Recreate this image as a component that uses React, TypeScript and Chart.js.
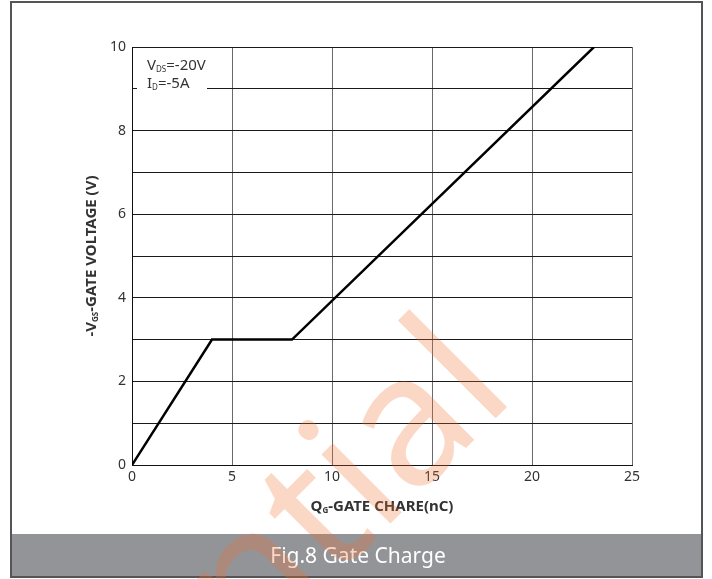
import React, { useEffect, useRef } from "react";
import { Chart, registerables } from "chart.js";

Chart.register(...registerables);

const qgValues = [0, 4, 8, 23.1];
const vgsValues = [0, 3, 3, 10];
const xTicks = [0, 5, 10, 15, 20, 25];
const yLabelled = [0, 2, 4, 6, 8, 10];

const xTitleParts: Array<[string, boolean]> = [["Q", false], ["G", true], ["-GATE CHARE(nC)", false]];
const yTitleParts: Array<[string, boolean]> = [["-V", false], ["GS", true], ["-GATE VOLTAGE (V)", false]];
const note1: Array<[string, boolean]> = [["V", false], ["DS", true], ["=-20V", false]];
const note2: Array<[string, boolean]> = [["I", false], ["D", true], ["=-5A", false]];
const caption = "Fig.8 Gate Charge";
const watermark = "Confidential";

const FONT = "'Noto Sans', sans-serif";

function drawRich(
  ctx: CanvasRenderingContext2D,
  parts: Array<[string, boolean]>,
  x: number,
  y: number,
  size: number,
  weight: string,
  color: string,
  align: "left" | "center"
) {
  const subSize = Math.round(size * 0.55);
  let total = 0;
  const widths = parts.map(([t, sub]) => {
    ctx.font = `${weight} ${sub ? subSize : size}px ${FONT}`;
    const w = ctx.measureText(t).width;
    total += w;
    return w;
  });
  let cx = align === "center" ? x - total / 2 : x;
  ctx.fillStyle = color;
  ctx.textAlign = "left";
  ctx.textBaseline = "alphabetic";
  parts.forEach(([t, sub], i) => {
    ctx.font = `${weight} ${sub ? subSize : size}px ${FONT}`;
    ctx.fillText(t, cx, sub ? y + 2 : y);
    cx += widths[i];
  });
}

const decor = {
  id: "decor",
  afterDraw(chart: any) {
    const ctx: CanvasRenderingContext2D = chart.ctx;
    const { left, right, top, bottom } = chart.chartArea;
    ctx.save();
    // annotation box
    ctx.fillStyle = "#ffffff";
    ctx.fillRect(left + 5, top + 8, 70, 36);
    drawRich(ctx, note1, left + 15, top + 23, 15, "normal", "#333333", "left");
    drawRich(ctx, note2, left + 15, top + 41, 15, "normal", "#333333", "left");
    // axis titles
    drawRich(ctx, xTitleParts, (left + right) / 2, 511, 15, "bold", "#333333", "center");
    ctx.save();
    ctx.translate(96, (top + bottom) / 2);
    ctx.rotate(-Math.PI / 2);
    drawRich(ctx, yTitleParts, 0, 0, 15, "bold", "#333333", "center");
    ctx.restore();
    // caption band
    ctx.fillStyle = "#939498";
    ctx.fillRect(12, 534, 690, 43);
    ctx.fillStyle = "#ffffff";
    ctx.font = `normal 21px ${FONT}`;
    ctx.textAlign = "center";
    ctx.textBaseline = "alphabetic";
    ctx.fillText(caption, 358, 563);
    // frame
    ctx.strokeStyle = "#555555";
    ctx.lineWidth = 2;
    ctx.strokeRect(11, 2, 691, 575);
    // watermark
    ctx.save();
    ctx.translate(518, 396);
    ctx.rotate(-Math.PI / 4);
    ctx.font = `normal 182px ${FONT}`;
    ctx.textAlign = "right";
    ctx.textBaseline = "alphabetic";
    ctx.fillStyle = "rgba(240,110,50,0.28)";
    ctx.fillText(watermark, 0, 0);
    ctx.restore();
    ctx.restore();
  },
};

export default function App() {
  const ref = useRef<HTMLCanvasElement | null>(null);
  useEffect(() => {
    document.body.style.margin = "0";
    if (!ref.current) return;
    const chart = new Chart(ref.current, {
      type: "line",
      data: {
        datasets: [
          {
            data: qgValues.map((x, i) => ({ x, y: vgsValues[i] })),
            borderColor: "#000000",
            borderWidth: 2.5,
            pointRadius: 0,
            tension: 0,
            fill: false,
          },
        ],
      },
      options: {
        animation: false,
        responsive: false,
        maintainAspectRatio: false,
        layout: { padding: { left: 0, top: 47, right: 80, bottom: 0 } },
        plugins: { legend: { display: false }, tooltip: { enabled: false }, title: { display: false } },
        scales: {
          x: {
            type: "linear",
            min: 0,
            max: 25,
            afterFit: (s: any) => {
              s.height = 114;
            },
            afterBuildTicks: (s: any) => {
              s.ticks = xTicks.map((v) => ({ value: v }));
            },
            ticks: {
              autoSkip: false,
              maxRotation: 0,
              padding: 4,
              color: "#333333",
              font: { family: "'Noto Sans', sans-serif", size: 14 },
            },
            grid: { color: "#6a6a6a", lineWidth: 1, drawTicks: false },
            border: { color: "#111111", width: 1 },
          },
          y: {
            type: "linear",
            min: 0,
            max: 10,
            afterFit: (s: any) => {
              s.width = 132;
            },
            ticks: {
              stepSize: 1,
              autoSkip: false,
              padding: 6,
              color: "#333333",
              font: { family: "'Noto Sans', sans-serif", size: 14 },
              callback: (v: any) => (yLabelled.includes(Number(v)) ? String(v) : ""),
            },
            grid: { color: "#1a1a1a", lineWidth: 1, drawTicks: false },
            border: { color: "#111111", width: 1 },
          },
        },
      },
      plugins: [decor],
    });
    return () => chart.destroy();
  }, []);
  return <canvas ref={ref} width={712} height={579} style={{ display: "block" }} />;
}
